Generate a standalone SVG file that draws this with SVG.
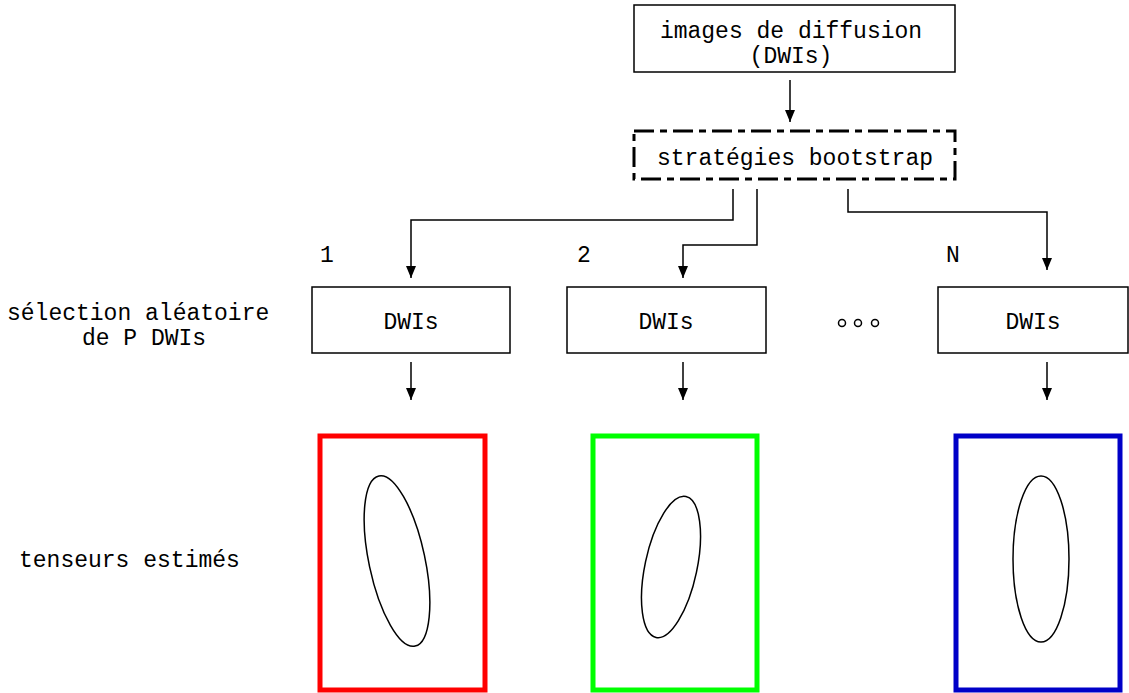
<svg xmlns="http://www.w3.org/2000/svg" width="1129" height="693" viewBox="0 0 1129 693">
<style>
text{font-family:"Liberation Mono","Courier New",monospace;font-size:23px;fill:#000}
.box{fill:#fff;stroke:#000;stroke-width:1.5}
.dash{fill:none;stroke:#000;stroke-width:3;stroke-dasharray:20 6 7 6}
.conn{fill:none;stroke:#000;stroke-width:1.5}
.ell{fill:none;stroke:#000;stroke-width:1.5}
.frame{fill:none;stroke-width:5}
</style>
<defs>
<marker id="ah" viewBox="0 0 12 10" refX="12" refY="5" markerWidth="12" markerHeight="10" markerUnits="userSpaceOnUse" orient="auto">
<path d="M0,0 L12,5 L0,10 Z" fill="#000"/>
</marker>
</defs>
<g id="n-images">
<rect class="box" x="634" y="5" width="321" height="67"/>
<text x="791" y="38" text-anchor="middle">images de diffusion</text>
<text x="791" y="63" text-anchor="middle">(DWIs)</text>
</g>
<g id="n-bootstrap">
<rect class="dash" x="634" y="131" width="321" height="48"/>
<text x="795" y="165" text-anchor="middle">stratégies bootstrap</text>
</g>
<g id="n-dwi1">
<rect class="box" x="312" y="287" width="198" height="66"/>
<text x="411" y="329" text-anchor="middle">DWIs</text>
</g>
<g id="n-dwi2">
<rect class="box" x="567" y="287" width="199" height="66"/>
<text x="666" y="329" text-anchor="middle">DWIs</text>
</g>
<g id="n-dwiN">
<rect class="box" x="938" y="287" width="190" height="66"/>
<text x="1033" y="329" text-anchor="middle">DWIs</text>
</g>
<g id="n-t1">
<rect class="frame" stroke="#ff0000" x="320" y="436" width="165" height="254"/>
<ellipse class="ell" cx="397" cy="561" rx="28" ry="87" transform="rotate(-12 397 561)"/>
</g>
<g id="n-t2">
<rect class="frame" stroke="#00ff00" x="593" y="436" width="164" height="254"/>
<ellipse class="ell" cx="671" cy="567" rx="26" ry="72" transform="rotate(12 671 567)"/>
</g>
<g id="n-tN">
<rect class="frame" stroke="#0000c8" x="956" y="436" width="164" height="254"/>
<ellipse class="ell" cx="1041" cy="559" rx="28" ry="83"/>
</g>
<g id="labels">
<text x="320" y="262">1</text>
<text x="577" y="262">2</text>
<text x="946" y="262">N</text>
<text x="7" y="320">sélection aléatoire</text>
<text x="144" y="345" text-anchor="middle">de P DWIs</text>
<text x="19" y="567">tenseurs estimés</text>
<g fill="none" stroke="#000" stroke-width="1.5">
<circle cx="842" cy="323" r="3.5"/>
<circle cx="858" cy="323" r="3.5"/>
<circle cx="875" cy="323" r="3.5"/>
</g>
</g>
<g id="connectors">
<line class="conn" x1="790" y1="80" x2="790" y2="122" marker-end="url(#ah)"/>
<polyline class="conn" points="733,189 733,220 411,220 411,278" marker-end="url(#ah)"/>
<polyline class="conn" points="757,189 757,245 683,245 683,278" marker-end="url(#ah)"/>
<polyline class="conn" points="848,189 848,212 1047,212 1047,270" marker-end="url(#ah)"/>
<line class="conn" x1="411" y1="362" x2="411" y2="400" marker-end="url(#ah)"/>
<line class="conn" x1="683" y1="362" x2="683" y2="400" marker-end="url(#ah)"/>
<line class="conn" x1="1047" y1="362" x2="1047" y2="400" marker-end="url(#ah)"/>
</g>
</svg>
